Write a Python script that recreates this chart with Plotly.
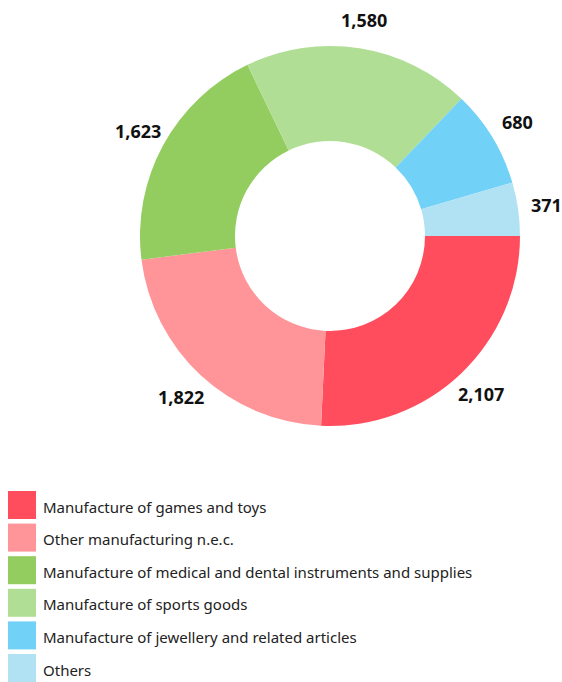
import math
import plotly.graph_objects as go

categories = [
    "Manufacture of games and toys",
    "Other manufacturing n.e.c.",
    "Manufacture of medical and dental instruments and supplies",
    "Manufacture of sports goods",
    "Manufacture of jewellery and related articles",
    "Others",
]
values = [2107, 1822, 1623, 1580, 680, 371]
colors = ["#FF4D5E", "#FF9598", "#93CD5F", "#B1DE95", "#72D1F7", "#B0E2F3"]

W, H = 562, 682
CX, CY, R = 330, 236, 190
fig = go.Figure()
fig.add_trace(go.Pie(
    labels=categories,
    values=values,
    marker=dict(colors=colors, line=dict(width=0)),
    hole=0.5,
    sort=False,
    direction="clockwise",
    rotation=90,
    textinfo="none",
    hoverinfo="label+value",
    showlegend=False,
    domain=dict(x=[(CX - R) / W, (CX + R) / W], y=[1 - (CY + R) / H, 1 - (CY - R) / H]),
))

# value labels placed outside along each slice's mid-angle
total = sum(values)
cum = 0
LR = 219
for v in values:
    mid = 90 + (cum + v / 2) / total * 360
    cum += v
    a = math.radians(mid)
    x = CX + LR * math.sin(a)
    y = CY - LR * math.cos(a)
    fig.add_annotation(xref="paper", yref="paper", x=x / W, y=1 - y / H,
                       xanchor="center", yanchor="middle", showarrow=False,
                       text=f"<b>{v:,}</b>",
                       font=dict(size=18, color="#111111", family="Noto Sans"))

# custom legend with large squares
top0 = 491
step = 32.6
sq = 28
for i, (cat, col) in enumerate(zip(categories, colors)):
    t = top0 + i * step
    fig.add_shape(type="rect", xref="paper", yref="paper",
                  x0=8 / W, x1=36 / W, y0=1 - (t + sq) / H, y1=1 - t / H,
                  fillcolor=col, line=dict(width=0))
    fig.add_annotation(xref="paper", yref="paper", x=41 / W, y=1 - (t + sq / 2 + 1.5) / H,
                       xanchor="left", yanchor="middle", text=cat, showarrow=False,
                       font=dict(size=15, color="#222222", family="Noto Sans"))

fig.update_layout(
    width=W, height=H,
    margin=dict(l=0, r=0, t=0, b=0),
    paper_bgcolor="white", plot_bgcolor="white",
)
fig.write_html("out.html", config={"displayModeBar": False},
               post_script="document.body.style.margin='0';")
